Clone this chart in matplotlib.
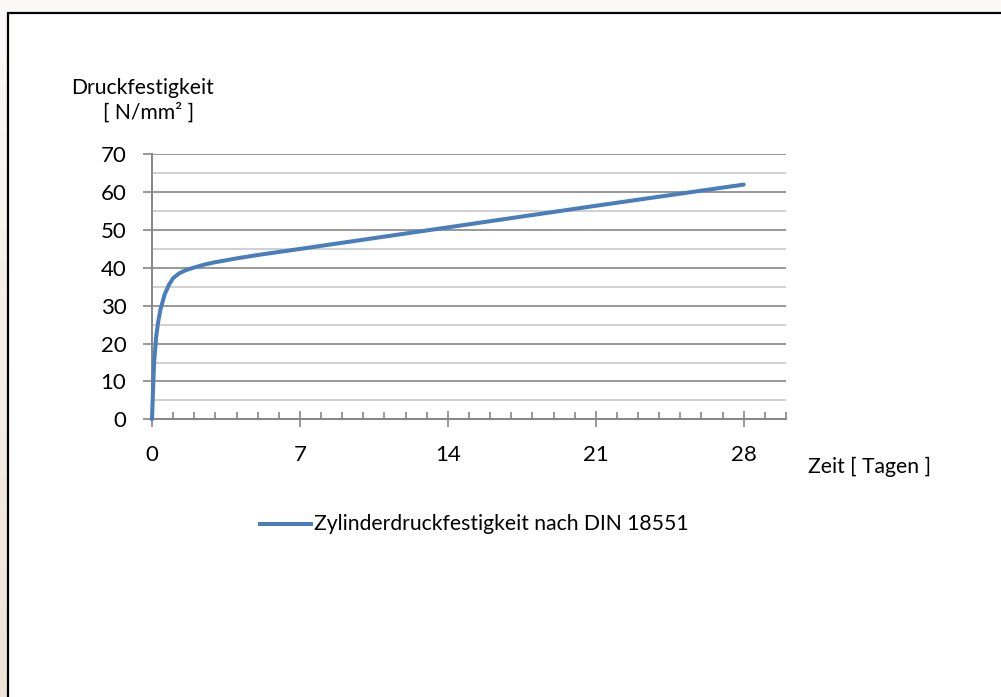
import numpy as np
import matplotlib
matplotlib.use("Agg")
from matplotlib import pyplot as plt
from matplotlib.patches import Rectangle

# Werte
tage = [0, 0.05, 0.1, 0.2, 0.3, 0.4, 0.6, 0.8, 1.0, 1.3, 1.6, 2.0, 2.5, 3.0, 4.0, 5.0, 7.0, 14.0, 21.0, 28.0]
festigkeit = [0, 8, 15, 22, 26, 29, 33, 35.5, 37.3, 38.6, 39.4, 40.1, 40.9, 41.5, 42.5, 43.4, 45.0, 50.7, 56.4, 62.0]
xticks_major = [0, 7, 14, 21, 28]
yticks_major = [0, 10, 20, 30, 40, 50, 60, 70]
yticks_minor = [5, 15, 25, 35, 45, 55, 65]
serie = "Zylinderdruckfestigkeit nach DIN 18551"

plt.rcParams['font.family'] = ['Lato', 'DejaVu Sans']
fs = 15.2
fs_tick = 16
W, H = 1001, 697

fig = plt.figure(figsize=(W / 100, H / 100), dpi=100)

# Hintergrund ausserhalb des Rahmens (leichter Verlauf)
bg = fig.add_axes([0, 0, 1, 1], zorder=-10)
grad = np.linspace(0, 1, 256).reshape(-1, 1)
c_top = np.array([0.985, 0.978, 0.968])
c_bot = np.array([0.94, 0.89, 0.84])
img = c_top + (c_bot - c_top) * grad[:, :, None]
bg.imshow(img, aspect='auto', extent=[0, 1, 0, 1], origin='upper')
bg.set_axis_off()

# weisser Rahmen mit schwarzer Kante
fig.patches.append(Rectangle((8 / W, -0.05), 1.05, 1 - 13 / H + 0.05,
                             transform=fig.transFigure, facecolor='white',
                             edgecolor='black', lw=1.6, zorder=-5))

ax = fig.add_axes([152 / W, 1 - 419.3 / H, 634 / W, 265 / H])
ax.set_facecolor('none')
ax.plot(tage, festigkeit, color='#4a7ebb', lw=2.9, solid_capstyle='round',
        solid_joinstyle='round', zorder=5, clip_on=False)

ax.set_xlim(0, 30)
ax.set_ylim(0, 70)
ax.set_xticks(xticks_major)
ax.set_xticks(np.arange(0, 31, 1), minor=True)
ax.set_yticks(yticks_major)
ax.set_yticks(yticks_minor, minor=True)

for s in ['top', 'right']:
    ax.spines[s].set_visible(False)
for s in ['left', 'bottom']:
    ax.spines[s].set_color('#868686')
    ax.spines[s].set_linewidth(1.4)

ax.grid(axis='y', which='major', color='#868686', lw=1.2)
ax.grid(axis='y', which='minor', color='#c8c8c8', lw=1.2)
ax.set_axisbelow(True)

ax.tick_params(axis='x', which='major', direction='inout', length=11.5, width=1.2,
               color='#868686', labelsize=fs_tick, pad=12.5)
ax.tick_params(axis='x', which='minor', direction='in', length=5, width=1.2, color='#868686')
ax.tick_params(axis='y', which='major', direction='out', length=6.5, width=1.2,
               color='#868686', labelsize=fs_tick, pad=12)
ax.tick_params(axis='y', which='minor', length=0)

fig.text(71 / W, 1 - 88 / H, "Druckfestigkeit", fontsize=fs, va='center', ha='left')
fig.text(103 / W, 1 - 113 / H, "[ N/mm² ]", fontsize=fs, va='center', ha='left')
fig.text(808 / W, 1 - 467 / H, "Zeit [ Tagen ]", fontsize=fs, va='center', ha='left')

# Legende
fig.add_artist(plt.Line2D([260 / W, 311 / W], [1 - 524 / H, 1 - 524 / H],
                          color='#4a7ebb', lw=2.9, transform=fig.transFigure))
fig.text(314 / W, 1 - 524 / H, serie, fontsize=fs, va='center', ha='left')

fig.savefig("out.png", dpi=100)
